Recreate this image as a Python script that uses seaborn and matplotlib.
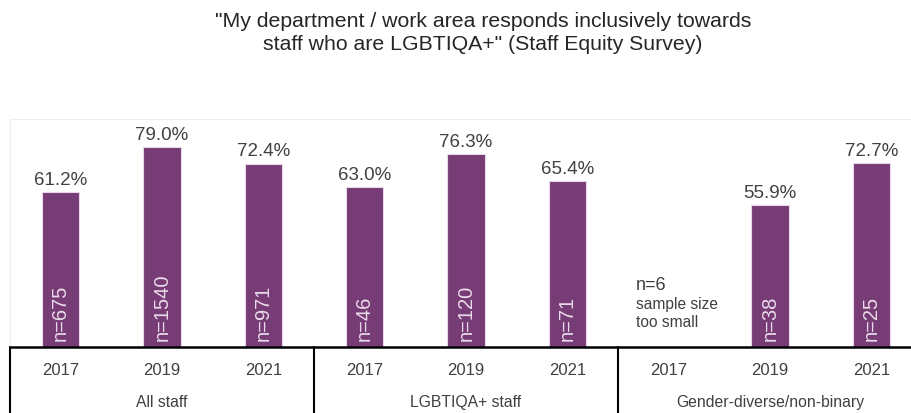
import matplotlib
matplotlib.use("Agg")
import matplotlib.pyplot as plt
import seaborn as sns
import pandas as pd
import numpy as np

# Survey results: share agreeing, by staff group and survey year
groups = ["All staff", "LGBTIQA+ staff", "Gender-diverse/non-binary"]
years = ["2017", "2019", "2021"]
all_staff = [61.2, 79.0, 72.4]
lgbtiqa_staff = [63.0, 76.3, 65.4]
gender_diverse = [np.nan, 55.9, 72.7]   # 2017 sample too small to report
n_all = [675, 1540, 971]
n_lgbtiqa = [46, 120, 71]
n_gender = [6, 38, 25]

title = ('"My department / work area responds inclusively towards\n'
         'staff who are LGBTIQA+" (Staff Equity Survey)')

values = all_staff + lgbtiqa_staff + gender_diverse
counts = n_all + n_lgbtiqa + n_gender
df = pd.DataFrame({
    "group": [g for g in groups for _ in years],
    "year": years * len(groups),
    "pct": values,
    "n": counts,
})
df["slot"] = [f"{g}|{y}" for g, y in zip(df["group"], df["year"])]

sns.set_theme(style="white")
plt.rcParams["font.family"] = ["Liberation Sans", "DejaVu Sans"]

bar_color = "#773B75"
text_gray = "#404040"

fig = plt.figure(figsize=(9.12, 4.14), dpi=100)
ax = fig.add_axes([10 / 912, 66 / 414, 912 / 912, 228 / 414])

sns.barplot(data=df, x="slot", y="pct", order=list(df["slot"]),
            color=bar_color, saturation=1, width=0.37,
            edgecolor="#e9d6ea", linewidth=0.8, ax=ax)

ax.set_ylim(0, 90)
ax.set_xlim(-0.5, len(df) - 0.5)
ax.set_xlabel("")
ax.set_ylabel("")
ax.set_xticks([])
ax.set_yticks([])

for side in ["top", "left", "right"]:
    ax.spines[side].set_color("#eeeeee")
    ax.spines[side].set_linewidth(0.8)
ax.spines["bottom"].set_color("black")
ax.spines["bottom"].set_linewidth(1.8)

# Value labels above bars and sample sizes inside bars
for i, row in df.iterrows():
    if np.isnan(row["pct"]):
        continue
    ax.annotate(f"{row['pct']:.1f}%", (i, row["pct"]),
                xytext=(0, 3), textcoords="offset points",
                ha="center", va="bottom", fontsize=13.5, color=text_gray)
    ax.annotate(f"n={row['n']}", (i, 0),
                xytext=(0, 5), textcoords="offset points",
                ha="center", va="bottom", rotation=90,
                fontsize=14.5, color="#eadcea")

# Note for the unreported gender-diverse 2017 result
gd_2017 = df.index[(df["group"] == groups[2]) & (df["year"] == "2017")][0]
ax.text(gd_2017 - 0.32, 23.0, f"n={n_gender[0]}", ha="left", va="baseline",
        fontsize=13, color=text_gray)
ax.text(gd_2017 - 0.32, 17.2, "sample size", ha="left", va="center",
        fontsize=11.2, color=text_gray)
ax.text(gd_2017 - 0.32, 10.0, "too small", ha="left", va="center",
        fontsize=11.2, color=text_gray)

# Category table beneath the axis: years, group names and separators
xt = ax.get_xaxis_transform()
for i, row in df.iterrows():
    ax.text(i, -0.097, row["year"], transform=xt, ha="center", va="center",
            fontsize=12, color=text_gray)
for k, g in enumerate(groups):
    ax.text(3 * k + 1, -0.24, g, transform=xt, ha="center", va="center",
            fontsize=11.3, color=text_gray)
    ax.plot([3 * k - 0.5, 3 * k - 0.5], [0, -0.4], transform=xt,
            color="black", linewidth=1.5, clip_on=False)

fig.text(483 / 912, 1 - 33 / 414, title, ha="center", va="center",
         fontsize=15.3, color="#262626", linespacing=1.3)

fig.savefig("out.png", dpi=100, facecolor="white")
